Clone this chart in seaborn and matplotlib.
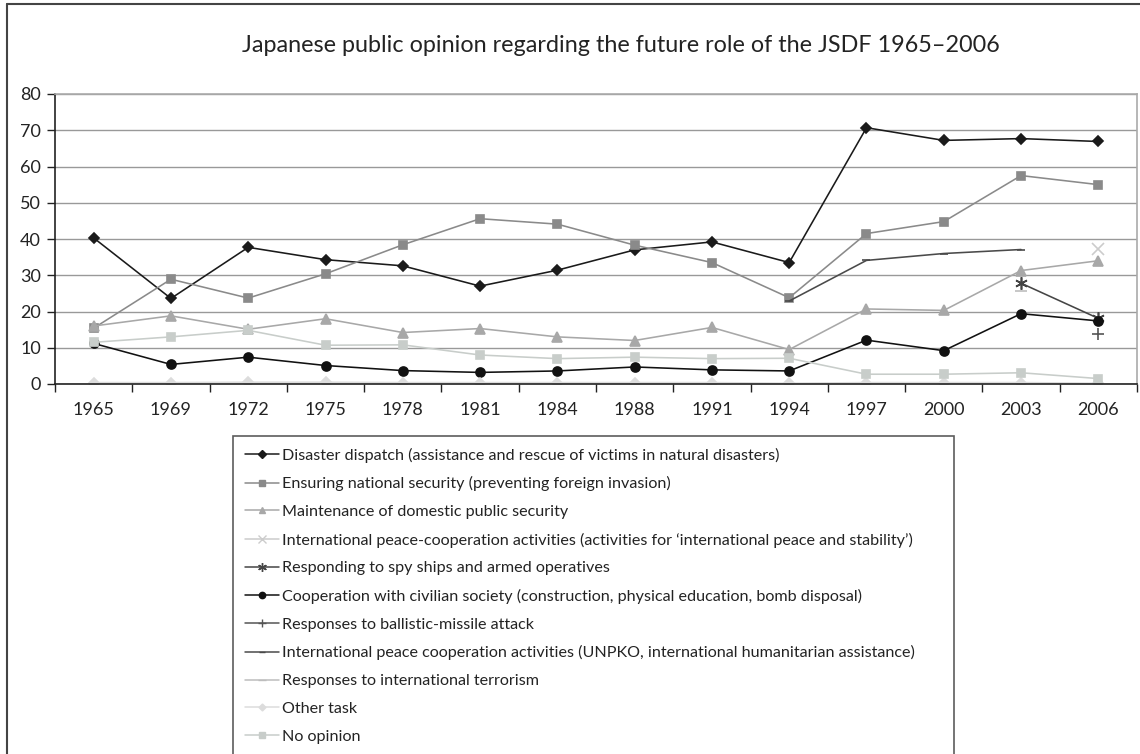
import numpy as np
import pandas as pd
import matplotlib
matplotlib.use("Agg")
import matplotlib.pyplot as plt
import seaborn as sns
from matplotlib.lines import Line2D

nan = np.nan
years = ['1965', '1969', '1972', '1975', '1978', '1981', '1984',
         '1988', '1991', '1994', '1997', '2000', '2003', '2006']

disaster = [40.3, 23.6, 37.7, 34.3, 32.6, 27.0, 31.4, 37.0, 39.2, 33.5, 70.7, 67.2, 67.7, 66.9]
national = [15.4, 28.9, 23.7, 30.4, 38.4, 45.6, 44.1, 38.3, 33.5, 23.8, 41.5, 44.8, 57.5, 55.0]
domestic = [16.0, 18.8, 15.1, 18.0, 14.2, 15.3, 13.0, 12.0, 15.6, 9.5, 20.7, 20.3, 31.3, 34.0]
peace_stability = [nan] * 13 + [37.2]
spy_ships = [nan] * 12 + [27.8, 18.1]
civilian = [11.2, 5.4, 7.4, 5.1, 3.7, 3.2, 3.6, 4.7, 3.9, 3.6, 12.1, 9.2, 19.4, 17.4]
missile = [nan] * 13 + [13.8]
unpko = [nan] * 9 + [22.9, 34.1, 36.0, 37.1, nan]
terrorism = [nan] * 12 + [25.7, nan]
other_task = [0.4, 0.4, 0.5, 0.5, 0.4, 0.4, 0.4, 0.4, 0.4, 0.2, 0.4, 0.4, 0.4, 0.2]
no_opinion = [11.5, 13.0, 14.8, 10.7, 10.8, 8.0, 7.0, 7.4, 7.0, 7.1, 2.7, 2.7, 3.1, 1.5]

labels = [
    "Disaster dispatch (assistance and rescue of victims in natural disasters)",
    "Ensuring national security (preventing foreign invasion)",
    "Maintenance of domestic public security",
    "International peace-cooperation activities (activities for \u2018international peace and stability\u2019)",
    "Responding to spy ships and armed operatives",
    "Cooperation with civilian society (construction, physical education, bomb disposal)",
    "Responses to ballistic-missile attack",
    "International peace cooperation activities (UNPKO, international humanitarian assistance)",
    "Responses to international terrorism",
    "Other task",
    "No opinion",
]
series = [disaster, national, domestic, peace_stability, spy_ships, civilian,
          missile, unpko, terrorism, other_task, no_opinion]
colors = ['#1a1a1a', '#8a8a8a', '#a8a8a8', '#cccccc', '#454545', '#111111',
          '#555555', '#4a4a4a', '#bdbdbd', '#dcdcdc', '#c8cdca']
markers = ['D', 's', '^', 'x', (6, 2, 0), 'o', '+', '_', '_', 'D', 's']
msizes = [5.5, 6, 7, 8, 9, 6.5, 8, 6, 8, 5, 6]

sns.set_style("white")
plt.rcParams['font.family'] = ['Lato', 'DejaVu Sans']
text_col = '#232323'

fig = plt.figure(figsize=(11.4, 7.54), dpi=100)
ax = fig.add_axes([55 / 1140, 1 - 384 / 754, (1137 - 55) / 1140, (384 - 94) / 754])

pos = np.arange(len(years))
handles = []
for lab, vals, c, m, ms in zip(labels, series, colors, markers, msizes):
    df = pd.DataFrame({'x': pos, 'y': vals}).dropna()
    sns.lineplot(data=df, x='x', y='y', ax=ax, color=c, marker=m, markersize=ms,
                 markeredgecolor=c, markerfacecolor=c, linewidth=1.15,
                 markeredgewidth=1.2, legend=False)
    handles.append(Line2D([], [], color=c, marker=m, markersize=ms * 0.7,
                          markeredgecolor=c, markerfacecolor=c, linewidth=1.1))

ax.set_xlim(-0.5, len(years) - 0.5)
ax.set_ylim(0, 80)
ax.set_yticks(range(0, 81, 10))
ax.set_xticks(np.arange(-0.5, len(years), 1.0))
ax.set_xticklabels([])
ax.set_xticks(pos, minor=True)
ax.set_xticklabels(years, minor=True)
ax.tick_params(axis='x', which='major', length=6, width=1, color='#222222', direction='out', bottom=True)
ax.tick_params(axis='x', which='minor', length=0, pad=13, labelsize=13, labelcolor=text_col)
ax.tick_params(axis='y', length=6, width=1, color='#222222', direction='out', left=True,
               labelsize=13, labelcolor=text_col, pad=4)
ax.yaxis.grid(True, color='#999999', linewidth=1)
ax.xaxis.grid(False)
ax.set_axisbelow(True)
ax.set_xlabel('')
ax.set_ylabel('')
for s in ['left', 'bottom']:
    ax.spines[s].set_color('#222222')
    ax.spines[s].set_linewidth(1.2)
for s in ['top', 'right']:
    ax.spines[s].set_color('#aaaaaa')
    ax.spines[s].set_linewidth(1.2)

fig.text(621 / 1140, 1 - 45 / 754, "Japanese public opinion regarding the future role of the JSDF 1965\u20132006",
         ha='center', va='center', fontsize=16.8, color=text_col)

leg_x0, leg_x1, leg_top = 233 / 1140, 954 / 1140, 1 - 436 / 754
leg = fig.legend(handles, labels, loc='upper left',
                 bbox_to_anchor=(leg_x0, leg_top - 0.01, leg_x1 - leg_x0, 0.01), mode='expand',
                 frameon=True, fancybox=False, edgecolor='#333333', fontsize=11.6,
                 handlelength=2.15, handletextpad=0.15, labelspacing=0.84,
                 borderpad=0.72, borderaxespad=0)
leg.get_frame().set_linewidth(1.2)
for t in leg.get_texts():
    t.set_color(text_col)

# outer frame around the whole chart (clipped at right and bottom)
fig.add_artist(Line2D([7 / 1140, 7 / 1140], [0, 1 - 4 / 754], transform=fig.transFigure,
                      color='#444444', linewidth=1.5))
fig.add_artist(Line2D([7 / 1140, 1], [1 - 4 / 754, 1 - 4 / 754], transform=fig.transFigure,
                      color='#444444', linewidth=1.5))

fig.savefig("out.png", dpi=100)
